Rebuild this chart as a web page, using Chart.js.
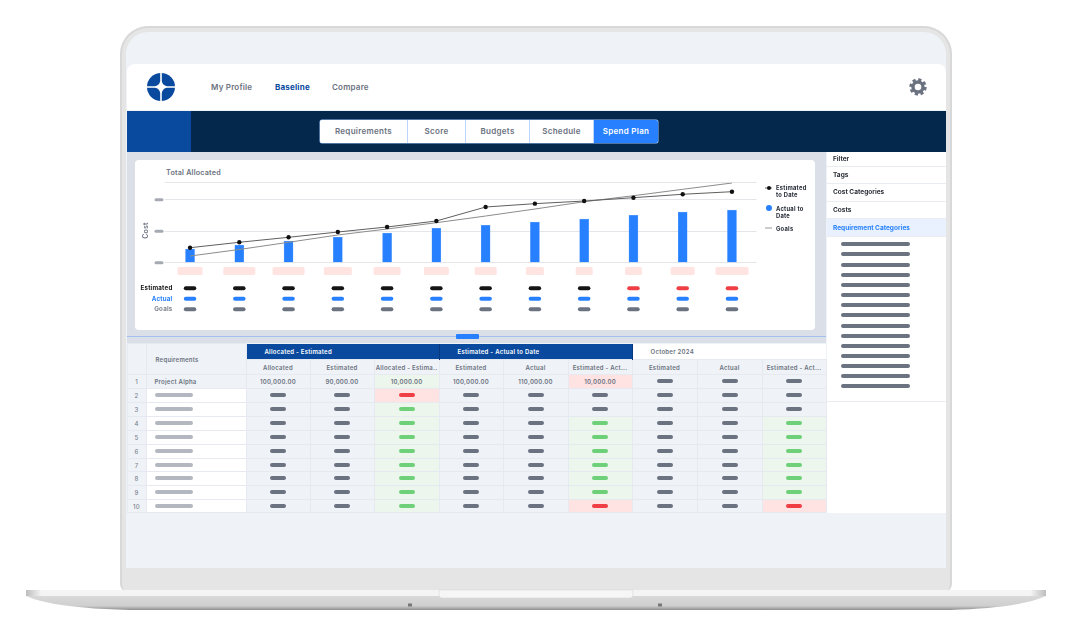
<!DOCTYPE html>
<html>
<head>
<meta charset="utf-8">
<script src="https://cdn.jsdelivr.net/npm/chart.js@4"></script>
<style>
  html, body { margin: 0; padding: 0; background: #fff; }
  body { width: 1072px; height: 636px; position: relative; overflow: hidden; font-family: Inter, sans-serif; font-weight: 600; color: #6b7280; letter-spacing: 0.2px; }
  .abs { position: absolute; }
  .lid { left: 120px; top: 26px; width: 828px; height: 564px; background: #e5e5e5; border: 2px solid #d8d8d8; border-bottom: 0; border-radius: 28px 28px 8px 8px; }
  .screen { left: 126px; top: 32px; width: 820px; height: 536px; background: #eff2f7; border-radius: 22px 22px 0 0; overflow: hidden; }
  .header { left: 127px; top: 64px; width: 819px; height: 46px; background: #fff; border-radius: 8px 8px 0 0; }
  .nav { top: 82px; font-size: 8px; line-height: 10px; }
  .navbar { left: 127px; top: 111px; width: 819px; height: 41px; background: #03284b; }
  .navblock { left: 127px; top: 111px; width: 64px; height: 41px; background: #0a4a9e; }
  .tabs { left: 320px; top: 120px; width: 338px; height: 23px; background: #fff; border-radius: 2px; overflow: hidden; display: flex; font-size: 8px; line-height: 23px; text-align: center; letter-spacing: 0.3px; box-shadow: 0 0 0 0.5px #9cc1f5; }
  .tabs div { border-right: 1px solid #bcd6fb; box-sizing: border-box; }
  .tabs .on { background: #2680ff; color: #fff; border: 0; }
  .chartpanel { left: 127px; top: 152px; width: 699px; height: 191px; background: #dbe0e8; }
  .card { left: 135px; top: 160px; width: 680px; height: 170px; background: #fff; border-radius: 4px; }
  #costChart { position: absolute; left: 135px; top: 160px; }
  .charttitle { left: 166px; top: 168px; font-size: 7.2px; line-height: 10px; }
  .legend { font-size: 5.8px; line-height: 7px; color: #1f2430; font-weight: 700; left: 776px; letter-spacing: 0.25px; }
  .splitline { left: 127px; top: 336px; width: 699px; height: 1px; background: #a3c0f0; }
  .splithandle { left: 456px; top: 334px; width: 23px; height: 5px; background: #2680ff; border-radius: 1px; }
  .side { left: 827px; top: 152px; width: 119px; height: 361px; background: #fff; }
  .siderow { left: 827px; width: 119px; box-sizing: border-box; padding-left: 6px; font-size: 6.5px; color: #2b3038; border-bottom: 1px solid #e9ecf1; font-weight: 700; letter-spacing: 0; }
  .sidepill { left: 841px; width: 69px; height: 4px; border-radius: 2px; background: #6b7280; }
  table { position: absolute; left: 126.5px; top: 343px; width: 700px; border-collapse: collapse; table-layout: fixed; font-size: 6px; text-align: center; letter-spacing: 0.25px; }
  td, th { padding: 0; border: 1px solid #e6e9ef; font-weight: 600; overflow: hidden; white-space: nowrap; }
  tr.group th { height: 16px; text-align: left; padding-left: 18px; color: #fff; background: #0a4a9e; border: 0; border-right: 1px solid #07397c; box-sizing: border-box; }
  tr.group th.month { background: #fff; color: #6b7280; border: 0; }
  tr.sub th { height: 15px; background: #eff2f7; box-sizing: border-box; }
  td { background: #eff2f7; box-sizing: border-box; height: 14px; }
  td.num { font-weight: 500; color: #7b828d; }
  td.name { background: #fff; text-align: left; padding-left: 8px; }
  td.good { background: #ecf6ec; }
  td.bad { background: #ffe3e3; }
  tr.short td { height: 13px; }
  .pill { display: block; position: relative; top: -0.5px; margin: 0 auto; width: 16px; height: 4px; border-radius: 2px; background: #6b7280; }
  .pill.good { background: #6fd07a; }
  .pill.bad { background: #ef3f44; }
  .pill.label { margin: 0; width: 38px; background: #b2b7c0; }
</style>
</head>
<body>
<div class="abs lid"></div>
<div class="abs screen"></div>
<div class="abs header"></div>
<svg class="abs" style="left:147px;top:73px" width="28" height="28" viewBox="0 0 28 28">
  <circle cx="14" cy="14" r="14" fill="#0a4a9e"/>
  <path d="M13.2 0 L14.8 0 L14.8 8 Q15.5 12.5 20 13.2 L28 13.2 L28 14.8 L20 14.8 Q15.5 15.5 14.8 20 L14.8 28 L13.2 28 L13.2 20 Q12.5 15.5 8 14.8 L0 14.8 L0 13.2 L8 13.2 Q12.5 12.5 13.2 8 Z" fill="#fff"/>
</svg>
<div class="abs nav" style="left:211px">My Profile</div>
<div class="abs nav" style="left:275px;color:#0a4a9e;font-weight:700">Baseline</div>
<div class="abs nav" style="left:332px">Compare</div>
<svg class="abs" style="left:909px;top:78px" width="18" height="18" viewBox="0 0 18 18">
  <circle cx="9" cy="9" r="5" fill="none" stroke="#6b7280" stroke-width="3.4"/>
  <circle cx="9" cy="9" r="7.2" fill="none" stroke="#6b7280" stroke-width="3" stroke-dasharray="3.1 2.55"/>
</svg>
<div class="abs navbar"></div>
<div class="abs navblock"></div>
<div class="abs tabs">
  <div style="width:88px">Requirements</div>
  <div style="width:58px">Score</div>
  <div style="width:64px">Budgets</div>
  <div style="width:64px">Schedule</div>
  <div class="on" style="width:64px">Spend Plan</div>
</div>
<div class="abs chartpanel"></div>
<div class="abs card"></div>
<div class="abs charttitle">Total Allocated</div>
<canvas id="costChart" width="680" height="170"></canvas>

<!-- Legend, two line labels so it is not the chart legend -->
<svg class="abs" style="left:765px;top:184px" width="11" height="50">
  <line x1="0" y1="4" x2="7" y2="4" stroke="#666" stroke-width="1"/>
  <circle cx="4" cy="4" r="2" fill="#111"/>
  <circle cx="4" cy="24" r="3" fill="#2680ff"/>
  <line x1="0" y1="44" x2="7" y2="44" stroke="#999" stroke-width="1"/>
</svg>
<div class="abs legend" style="top:184px">Estimated<br>to Date</div>
<div class="abs legend" style="top:204.5px">Actual to<br>Date</div>
<div class="abs legend" style="top:224.5px">Goals</div>

<div class="abs splitline"></div>
<div class="abs splithandle"></div>
<div class="abs side"></div>
<div class="abs siderow" style="top:152px;height:15px;line-height:14px">Filter</div>
<div class="abs siderow" style="top:167px;height:17px;line-height:17px">Tags</div>
<div class="abs siderow" style="top:184px;height:18px;line-height:16px">Cost Categories</div>
<div class="abs siderow" style="top:202px;height:17px;line-height:16px">Costs</div>
<div class="abs siderow" style="top:219px;height:18px;line-height:18px;background:#e8f1fd;color:#2680ff">Requirement Categories</div>
<div class="abs siderow" style="top:390px;height:12px"></div>
<div id="sidePills"></div>
<table id="budgetTable"></table>

<!-- Laptop base -->
<svg class="abs" style="left:0;top:586px" width="1072" height="30" viewBox="0 0 1072 30">
  <defs>
    <linearGradient id="baseFill" x1="0" y1="0" x2="0" y2="1">
      <stop offset="0" stop-color="#d9d9d9"/>
      <stop offset="0.7" stop-color="#cfcfcf"/>
      <stop offset="1" stop-color="#8e8e8e"/>
    </linearGradient>
    <linearGradient id="topFill" x1="0" y1="0" x2="1" y2="0">
      <stop offset="0" stop-color="#bdbdbd"/>
      <stop offset="0.015" stop-color="#f4f4f4"/>
      <stop offset="0.985" stop-color="#f4f4f4"/>
      <stop offset="1" stop-color="#bdbdbd"/>
    </linearGradient>
  </defs>
  <path d="M26 10 L1046 10 Q1020 22 950 24 L130 24 Q52 22 26 10 Z" fill="url(#baseFill)"/>
  <rect x="26" y="4" width="1020" height="6" fill="url(#topFill)"/>
  <path d="M439 4 L633 4 L633 9 Q633 12 630 12 L442 12 Q439 12 439 9 Z" fill="#f6f6f6" stroke="#d0d0d0" stroke-width="0.5"/>
  <rect x="408" y="17.5" width="4" height="3" fill="#777"/>
  <rect x="658" y="17.5" width="4" height="3" fill="#777"/>
</svg>

<script>
// Spend plan values
const periods = ['P1', 'P2', 'P3', 'P4', 'P5', 'P6', 'P7', 'P8', 'P9', 'P10', 'P11', 'P12'];
const actualToDate = [21700, 28100, 34400, 40800, 47100, 54600, 59400, 64600, 69400, 75200, 80500, 83700];
const estimatedToDate = [23800, 32400, 40300, 48700, 56700, 66200, 88400, 93700, 97900, 103200, 108600, 112700];
const goals = [10600, 21000, 32400, 44000, 53500, 63500, 74100, 85200, 96800, 106300, 116500, 126500];
const yTicks = [0, 50000, 100000];
const yMax = 127300;

// Redacted placeholders under the chart
const periodPillWidths = [25, 32, 32, 28, 27, 25, 22, 18, 17, 17, 24, 33];
const overBudgetFrom = 9; // Estimated row turns red from this period on
const rowLabels = ['Estimated', 'Actual', 'Goals'];
const rowColors = ['#151515', '#2680ff', '#6b7280'];
const rowLabelColors = ['#151515', '#2680ff', '#7b828d'];
const rowOffsets = [128.3, 138.8, 149.3];

function pill(ctx, x, y, w, h, color) {
  ctx.fillStyle = color;
  ctx.beginPath();
  ctx.roundRect(x - w / 2, y - h / 2, w, h, h / 2);
  ctx.fill();
}

const placeholderPlugin = {
  id: 'placeholders',
  afterDraw(chart) {
    const ctx = chart.ctx;
    const xs = chart.scales.x;
    const ys = chart.scales.y;
    ctx.save();
    // y tick labels are blanked out in the design
    yTicks.forEach(t => pill(ctx, 24, ys.getPixelForValue(t), 9, 3, '#a5a9b2'));
    periods.forEach((p, i) => {
      const x = xs.getPixelForValue(i);
      ctx.fillStyle = '#ffe4e2';
      ctx.beginPath();
      ctx.roundRect(x - periodPillWidths[i] / 2, 107, periodPillWidths[i], 8, 1.5);
      ctx.fill();
      rowOffsets.forEach((y, r) => {
        const over = r === 0 && i >= overBudgetFrom;
        pill(ctx, x, y, 12.5, 4, over ? '#ef3f44' : rowColors[r]);
      });
    });
    ctx.font = '700 6.2px Inter, sans-serif';
    ctx.textAlign = 'right';
    ctx.textBaseline = 'middle';
    rowLabels.forEach((l, r) => {
      ctx.fillStyle = rowLabelColors[r];
      ctx.fillText(l, 37.5, rowOffsets[r]);
    });
    // axis title sits a little under the plot centre
    ctx.font = '600 7px Inter, sans-serif';
    ctx.fillStyle = '#6b7280';
    ctx.textAlign = 'center';
    ctx.translate(10.5, 70.5);
    ctx.rotate(-Math.PI / 2);
    ctx.fillText('Cost', 0, 0);
    ctx.restore();
  }
};

new Chart(document.getElementById('costChart'), {
  type: 'bar',
  data: {
    labels: periods,
    datasets: [
      { type: 'line', label: 'Estimated to Date', data: estimatedToDate, borderColor: '#5f5f5f', borderWidth: 1, pointRadius: 2.2, pointBackgroundColor: '#111', pointBorderWidth: 0, tension: 0, order: 1 },
      { type: 'line', label: 'Goals', data: goals, borderColor: '#8c8c8c', borderWidth: 1, pointRadius: 0, tension: 0, order: 2 },
      { type: 'bar', label: 'Actual to Date', data: actualToDate, backgroundColor: '#2680ff', borderColor: '#6ea8ff', borderWidth: { left: 0.5, right: 0.5, top: 0.5, bottom: 0 }, barThickness: 9, order: 3 }
    ]
  },
  options: {
    responsive: false,
    animation: false,
    layout: { padding: { top: 22.5, right: 58.4, bottom: 67.3, left: 0 } },
    plugins: { legend: { display: false }, tooltip: { enabled: false } },
    scales: {
      x: { display: false },
      y: {
        min: 0,
        max: yMax,
        afterBuildTicks(scale) { scale.ticks = [...yTicks, yMax].map(value => ({ value })); },
        afterFit(scale) { scale.width = 30.4; },
        border: { display: false },
        ticks: { display: false },
        grid: { color: '#e4e6ea', lineWidth: 1, drawTicks: false }
      }
    }
  },
  plugins: [placeholderPlugin]
});

// Sidebar placeholders
const sidePillRows = [244, 254, 264.5, 275, 285, 295, 305, 315, 325.5, 336, 346, 356, 366, 376, 386];
document.getElementById('sidePills').innerHTML = sidePillRows
  .map(y => `<div class="abs sidepill" style="top:${y - 2}px"></div>`).join('');

// Table below the chart
const columnWidths = [19, 100, 64, 64, 65, 64, 65, 64, 65, 65, 64];
const subHeaders = ['Allocated', 'Estimated', 'Allocated - Estima..', 'Estimated', 'Actual', 'Estimated - Act...', 'Estimated', 'Actual', 'Estimated - Act...'];
const firstRowValues = ['100,000.00', '90,000.00', '10,000.00', '100,000.00', '110,000.00', '10,000.00', null, null, null];
const firstRowStates = ['', '', 'good', '', '', 'bad', '', '', ''];
// state of the three variance columns, rows 2 to 10
const varianceA = ['bad', 'good', 'good', 'good', 'good', 'good', 'good', 'good', 'good'];
const varianceB = ['', '', 'good', 'good', 'good', 'good', 'good', 'good', 'bad'];
const varianceC = ['', '', 'good', 'good', 'good', 'good', 'good', 'good', 'bad'];
const shortRows = [7, 10];

function cellHTML(state) {
  return `<td class="${state}"><span class="pill ${state}"></span></td>`;
}

let html = '<colgroup>' + columnWidths.map(w => `<col style="width:${w}px">`).join('') + '</colgroup>';
html += `<tr class="group">
  <td rowspan="2" style="height:31px"></td>
  <td rowspan="2" style="text-align:left;padding-left:9px">Requirements</td>
  <th colspan="3">Allocated - Estimated</th>
  <th colspan="3">Estimated - Actual to Date</th>
  <th colspan="3" class="month">October 2024</th>
</tr>`;
html += '<tr class="sub">' + subHeaders.map(s => `<th>${s}</th>`).join('') + '</tr>';
html += '<tr><td class="num">1</td><td style="text-align:left;padding-left:8px">Project Alpha</td>' +
  firstRowValues.map((v, i) => v ? `<td class="${firstRowStates[i]}">${v}</td>` : cellHTML('')).join('') + '</tr>';
varianceA.forEach((a, i) => {
  const short = shortRows.includes(i + 2) ? 'short' : '';
  html += `<tr class="${short}"><td class="num">${i + 2}</td><td class="name"><span class="pill label"></span></td>` +
    cellHTML('') + cellHTML('') + cellHTML(a) +
    cellHTML('') + cellHTML('') + cellHTML(varianceB[i]) +
    cellHTML('') + cellHTML('') + cellHTML(varianceC[i]) + '</tr>';
});
document.getElementById('budgetTable').innerHTML = html;
</script>
</body>
</html>
